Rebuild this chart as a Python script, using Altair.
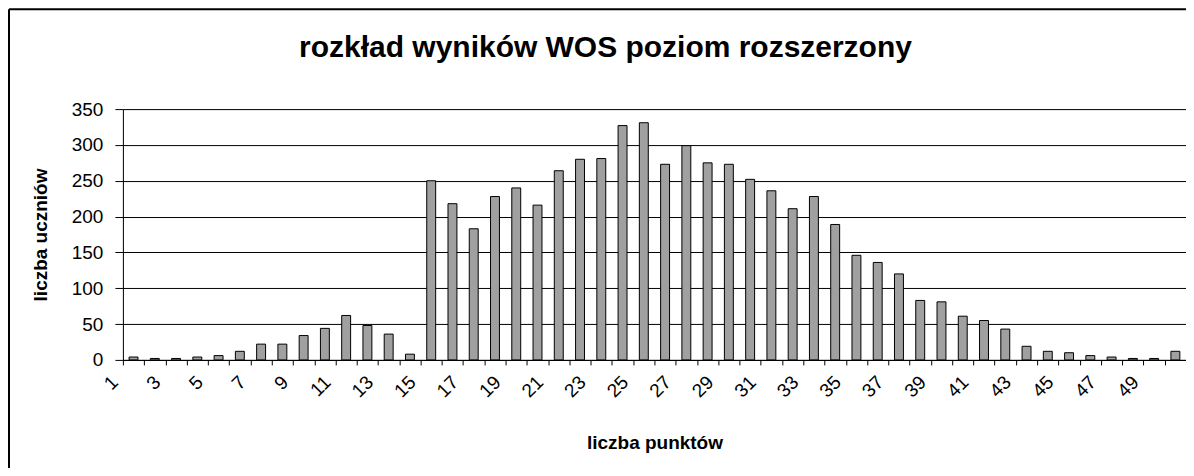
import altair as alt
import pandas as pd

points = list(range(1, 51))
students = [4, 2, 2, 4, 6, 12, 22, 22, 34, 44,
            62, 48, 36, 8, 250, 218, 183, 228, 240, 216,
            264, 280, 281, 327, 331, 273, 299, 275, 273, 252,
            236, 211, 228, 189, 146, 136, 120, 83, 81, 61,
            55, 43, 19, 12, 10, 6, 4, 2, 2, 12]
y_ticks = [0, 50, 100, 150, 200, 250, 300, 350]

df = pd.DataFrame({"pkt": points, "n": students})

FONT = "Liberation Sans"
W, H = 1064, 251
STEP = W / len(points)

bars = alt.Chart(df).mark_bar(
    color="#a0a0a0", stroke="#000000", strokeWidth=1
).encode(
    x=alt.X(
        "pkt:O",
        title="liczba punktów",
        scale=alt.Scale(paddingInner=0.58, paddingOuter=0.29),
        axis=alt.Axis(
            labelAngle=-45,
            labelAlign="right",
            labelBaseline="middle",
            labelExpr="datum.value % 2 == 1 ? datum.label : ''",
            tickOffset=-STEP / 2,
            labelOffset=STEP / 2 - 19,
            tickSize=5,
            labelPadding=14,
            labelFontSize=19,
            labelFont=FONT,
            labelColor="#000000",
            tickColor="#000000",
            domainColor="#000000",
            titleFont=FONT,
            titleFontSize=19,
            titleFontWeight="bold",
            titleColor="#000000",
            titleY=83,
            titleBaseline="middle",
            grid=False,
        ),
    ),
    y=alt.Y(
        "n:Q",
        title="liczba uczniów",
        scale=alt.Scale(domain=[0, 350], nice=False),
        axis=alt.Axis(
            values=y_ticks,
            tickSize=8,
            labelPadding=12,
            labelFontSize=19,
            labelFont=FONT,
            labelColor="#000000",
            tickColor="#000000",
            domainColor="#000000",
            gridColor="#000000",
            gridWidth=1,
            grid=True,
            titleFont=FONT,
            titleFontSize=19,
            titleFontWeight="bold",
            titleColor="#000000",
            titleAngle=-90,
            titleX=-82,
            titleY=H / 2,
            titleAlign="center",
            titleBaseline="middle",
        ),
    ),
)

frame_data = alt.Data(values=[{"k": 0}])
left_border = alt.Chart(frame_data).mark_rule(color="#000000", strokeWidth=2).encode(
    x=alt.value(-114), y=alt.value(-100), y2=alt.value(400)
)
top_border = alt.Chart(frame_data).mark_rule(color="#000000", strokeWidth=2).encode(
    x=alt.value(-114), x2=alt.value(1100), y=alt.value(-100)
)

chart = alt.layer(bars, left_border, top_border).properties(
    width=W,
    height=H,
    autosize=alt.AutoSizeParams(type="none"),
    padding={"left": 115, "top": 101, "right": 0, "bottom": 108},
    title=alt.TitleParams(
        "rozkład wyników WOS poziom rozszerzony",
        font=FONT,
        fontSize=30,
        fontWeight="bold",
        color="#000000",
        anchor="middle",
        frame="group",
        dx=-49,
        dy=65,
        offset=10,
    ),
).configure_view(
    stroke="#808080", strokeWidth=2
).configure(background="#ffffff")

chart.save("out.html", embed_options={"renderer": "svg", "actions": False})
